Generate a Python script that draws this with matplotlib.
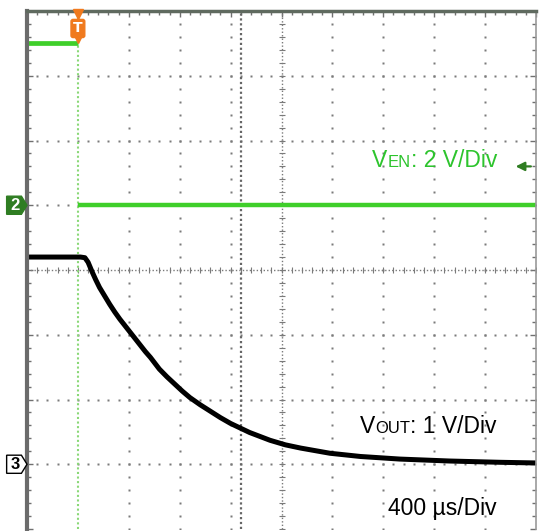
import numpy as np
import matplotlib
matplotlib.use('Agg')
import matplotlib.pyplot as plt
from matplotlib.patches import Polygon
from matplotlib.ticker import MultipleLocator
import matplotlib.transforms as mtransforms

# --------------------------------------------------------------------------
# scope settings

time_per_div = 400          # us / div
t_left, t_right = -400, 3600
n_vdiv = 4                  # divisions above / below centre

en_scale, en_pos = 2.0, 1.0     # V/div, trace position (div)
out_scale, out_pos = 1.0, -3.0
trig_t = 0
trig_level = 1.2            # V on channel 2
cursor_t = 1280

# --------------------------------------------------------------------------
# traces

en_t_pre = [-400, 0]
en_v_pre = [5.0, 5.0]
en_t_post = [0, 3600]
en_v_post = [0.0, 0.0]

out_t = [-400, 20, 55, 80, 110, 140, 170, 210, 250, 290, 330, 370, 410, 450,
         490, 530, 570, 640, 700, 760, 820, 880, 960, 1040, 1120, 1200, 1350,
         1510, 1630, 1750, 1980, 2220, 2530, 2920, 3320, 3600]
out_v = [3.2, 3.2, 3.19, 3.12, 2.98, 2.85, 2.73, 2.60, 2.47, 2.35, 2.24, 2.14,
         2.04, 1.94, 1.84, 1.74, 1.65, 1.47, 1.35, 1.24, 1.13, 1.03, 0.92, 0.82,
         0.72, 0.63, 0.49, 0.37, 0.30, 0.25, 0.17, 0.12, 0.08, 0.05, 0.03, 0.02]

GREEN = '#3fcf2a'
TXT_GREEN = '#2dc42d'
DARK_GREEN = '#2f7d22'
ORANGE = '#f07a1e'
GRID = '#7a7a7a'

W, H = 547, 531
fig = plt.figure(figsize=(W / 100, H / 100), dpi=100)
ax = fig.add_axes([27 / W, 2 / H, 509 / W, 518 / H])
ax.set_xlim(t_left, t_right)
ax.set_ylim(-n_vdiv, n_vdiv)

# --------------------------------------------------------------------------
# graticule

xmaj = np.arange(t_left, t_right + 1, time_per_div)
xmin = np.arange(t_left, t_right + 1, time_per_div / 5)
ymaj = np.arange(-n_vdiv, n_vdiv + 1)
ymin = np.arange(-n_vdiv * 5, n_vdiv * 5 + 1) / 5.0
t_mid = (t_left + t_right) / 2

for x in xmaj[1:-1]:
    if x in (trig_t, t_mid):
        continue
    ax.plot(np.full(len(ymin), x), ymin, ls='none', marker='s', ms=1.6,
            mfc=GRID, mec='none')
for y in ymaj[1:-1]:
    if y == 0:
        continue
    ax.plot(xmin, np.full(len(xmin), y), ls='none', marker='s', ms=1.6,
            mfc=GRID, mec='none')

# centre cross
ax.axhline(0, color=GRID, lw=1, ls=(0, (1, 1.5)))
ax.axvline(t_mid, color=GRID, lw=1, ls=(0, (1, 1.5)))
ax.plot(xmin, np.zeros(len(xmin)), ls='none', marker='|', ms=5, mew=0.8, color=GRID)
ax.plot(np.full(len(ymin), t_mid), ymin, ls='none', marker='_', ms=5, mew=0.8, color=GRID)

# cursor + trigger position line
ax.axvline(cursor_t, color='#666666', lw=1.6, ls=(0, (1, 1.2)))
ax.axvline(trig_t, color='#8ad877', lw=1.5, ls=(0, (1, 1.2)))

# --------------------------------------------------------------------------
# traces

ax.plot(en_t_pre, en_pos + np.array(en_v_pre) / en_scale, color=GREEN, lw=3.4,
        solid_capstyle='butt')
ax.plot(en_t_post, en_pos + np.array(en_v_post) / en_scale, color=GREEN, lw=3.2,
        solid_capstyle='butt')
ax.plot(out_t, out_pos + np.array(out_v) / out_scale, color='black', lw=3.6,
        solid_joinstyle='round', solid_capstyle='butt')

# --------------------------------------------------------------------------
# frame

ax.set_xticks(xmaj)
ax.set_yticks(ymaj)
ax.xaxis.set_minor_locator(MultipleLocator(time_per_div / 5))
ax.yaxis.set_minor_locator(MultipleLocator(0.2))
ax.tick_params(which='both', direction='in', top=True, right=True, bottom=False,
               labelleft=False, labelbottom=False, color='#707070', width=1)
ax.tick_params(which='major', length=4)
ax.tick_params(which='minor', length=3)
ax.spines['bottom'].set_visible(False)
ax.spines['left'].set_linewidth(3)
ax.spines['left'].set_color('#6b6b6b')
ax.spines['top'].set_linewidth(2.5)
ax.spines['top'].set_color('#5f6a5f')
ax.spines['right'].set_linewidth(1.2)
ax.spines['right'].set_color('#9a9a9a')

# channel markers
blend = mtransforms.blended_transform_factory(ax.transAxes, ax.transData)
for pos, num, fc, tc in [(en_pos, '2', DARK_GREEN, 'white'),
                         (out_pos, '3', 'white', 'black')]:
    h = 0.14
    poly = Polygon([(-0.04, pos - h), (-0.011, pos - h), (0, pos),
                    (-0.011, pos + h), (-0.04, pos + h)], closed=True,
                   transform=blend, fc=fc, ec='black' if fc == 'white' else fc,
                   lw=1, clip_on=False, zorder=5)
    ax.add_patch(poly)
    ax.text(-0.024, pos, num, transform=blend, ha='center', va='center',
            fontsize=12, fontweight='bold', color=tc, family='Liberation Sans',
            clip_on=False, zorder=6)

# trigger level arrow (right edge)
ax.annotate('', xy=(0.96, en_pos + trig_level / en_scale), xycoords=blend,
            xytext=(0.99, en_pos + trig_level / en_scale), textcoords=blend,
            arrowprops=dict(arrowstyle='-|>', color=DARK_GREEN, lw=1.6,
                            mutation_scale=13, shrinkA=0, shrinkB=0))

# trigger marker (top)
ax.plot([trig_t], [3.95], marker='v', ms=7, color=ORANGE, clip_on=False, zorder=6)
ax.text(trig_t, 3.73, 'T', ha='center', va='center', fontsize=10, fontweight='bold',
        color='white', family='DejaVu Sans', zorder=7,
        bbox=dict(boxstyle='round,pad=0.15', fc=ORANGE, ec=ORANGE))
ax.plot([trig_t], [3.575], marker='v', ms=6, color=ORANGE, zorder=6)

# --------------------------------------------------------------------------
# labels with small-caps subscripts

renderer = fig.canvas.get_renderer()


def label(parts, x_right, y_base, color):
    x = x_right / W
    for s, size in reversed(parts):
        t = fig.text(x, 1 - y_base / H, s, fontsize=size, color=color,
                     ha='right', va='baseline', family='Liberation Sans')
        x = t.get_window_extent(renderer).x0 / fig.bbox.width


label([('V', 16.5), ('EN', 12), (': 2 V/Div', 16.5)], 497, 167, TXT_GREEN)
label([('V', 16.5), ('OUT', 12), (': 1 V/Div', 16.5)], 497, 433, 'black')
label([('400 µs/Div', 16.5)], 497, 515, 'black')

fig.savefig('out.png', dpi=100)
